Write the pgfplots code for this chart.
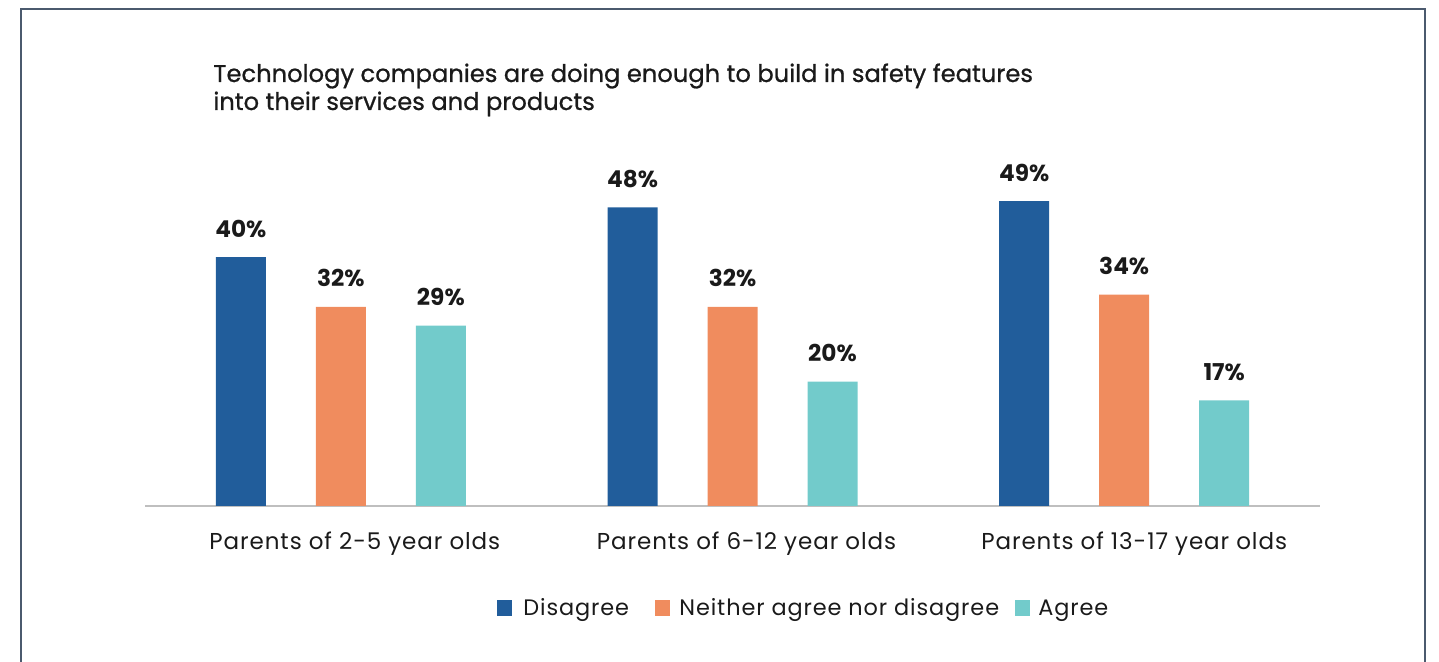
\documentclass[border=0pt]{standalone}
\usepackage{pgfplots}
\pgfplotsset{compat=1.18}
\usepackage{fontspec}
\setmainfont{Poppins}
\newfontfamily\titlefont[FakeBold=0.8]{Poppins}
\newfontfamily\labfont[LetterSpace=4]{Poppins}
\definecolor{cDis}{HTML}{215D9B}
\definecolor{cNei}{HTML}{F08C5E}
\definecolor{cAgr}{HTML}{72CBCB}
\definecolor{cFrame}{HTML}{4B5A6E}
\definecolor{cAxis}{HTML}{BFBFBF}
\definecolor{cText}{HTML}{1A1A1A}
\begin{document}
\begin{tikzpicture}[x=0.5pt,y=0.5pt]
% pixel (px,py) -> ((px-145), (506-py)) in 0.5pt units
\useasboundingbox (-145,-156) rectangle (1294,506);
\begin{axis}[
  at={(0,0)}, anchor=south west,
  scale only axis,
  width=587.5pt, height=186.6pt,
  xmin=-0.5, xmax=2.5, ymin=0, ymax=60,
  ybar=25pt, bar width=25pt,
  axis x line*=bottom, axis y line=none,
  x axis line style={cAxis, line width=1pt, -},
  xtick=data, xticklabels={}, major tick length=0pt,
  ytick=\empty,
  clip=false,
  /pgf/number format/assume math mode=true,
  nodes near coords={\bfseries\pgfmathprintnumber{\pgfplotspointmeta}\%},
  every node near coord/.append style={font=\fontsize{11.6}{13}\selectfont, text=cText, anchor=base, yshift=10pt, inner sep=0pt},
]
\addplot[fill=cDis, draw=none] coordinates {(0,40) (1,48) (2,49)};
\addplot[fill=cNei, draw=none] coordinates {(0,32) (1,32) (2,34)};
\addplot[fill=cAgr, draw=none] coordinates {(0,29) (1,20) (2,17)};
\node[anchor=base, inner sep=0pt, font=\labfont\fontsize{11.5}{13}\selectfont, text=cText] at (axis cs:0,0) [xshift=7pt, yshift=-22pt] {Parents of 2-5 year olds};
\node[anchor=base, inner sep=0pt, font=\labfont\fontsize{11.5}{13}\selectfont, text=cText] at (axis cs:1,0) [xshift=7pt, yshift=-22pt] {Parents of 6-12 year olds};
\node[anchor=base, inner sep=0pt, font=\labfont\fontsize{11.5}{13}\selectfont, text=cText] at (axis cs:2,0) [xshift=5pt, yshift=-22pt] {Parents of 13-17 year olds};
\end{axis}
% frame
\draw[cFrame, line width=1pt] (-124,-156) -- (-124,497) -- (1280,497) -- (1280,-156);
% title
\node[anchor=base west, inner sep=0pt, text=cText, font=\titlefont\fontsize{12.1}{14}\selectfont] at (68,424) {Technology companies are doing enough to build in safety features};
\node[anchor=base west, inner sep=0pt, text=cText, font=\titlefont\fontsize{12.1}{14}\selectfont] at (68,396) {into their services and products};
% legend
\begin{scope}[font=\labfont\fontsize{11.2}{13}\selectfont]
\fill[cDis] (352,-110) rectangle (367,-94);
\node[anchor=base west, inner sep=0pt, text=cText] at (378,-110) {Disagree};
\fill[cNei] (510,-110) rectangle (525,-94);
\node[anchor=base west, inner sep=0pt, text=cText] at (534,-110) {Neither agree nor disagree};
\fill[cAgr] (870,-110) rectangle (885,-94);
\node[anchor=base west, inner sep=0pt, text=cText] at (893,-110) {Agree};
\end{scope}
\end{tikzpicture}
\end{document}
